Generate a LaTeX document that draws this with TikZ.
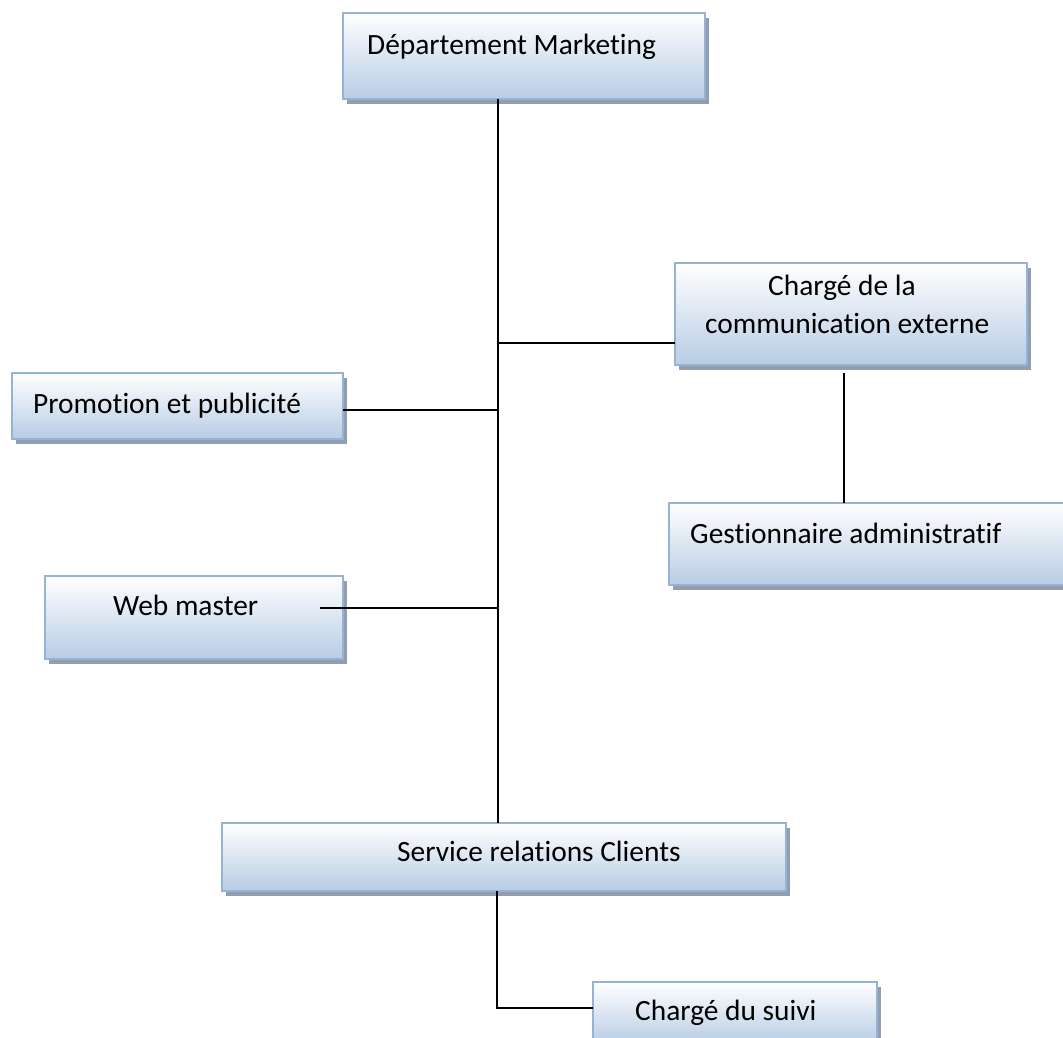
\documentclass[tikz,border=0pt]{standalone}
\usepackage{fontspec}
\setmainfont[Ligatures={NoCommon}]{Carlito}
\usetikzlibrary{shadows}
\definecolor{boxborder}{HTML}{95B3D7}
\definecolor{boxbottom}{HTML}{B8CCE4}
\definecolor{shadowc}{HTML}{929EAE}
\tikzset{
  orgbox/.style={anchor=north west, inner sep=0pt, outer sep=0pt,
    draw=boxborder, line width=2.5pt, top color=white, bottom color=boxbottom,
    drop shadow={shadow xshift=4pt, shadow yshift=-5pt, fill=shadowc, opacity=1}},
  lbl/.style={anchor=base west, inner sep=0pt, font=\fontsize{29.4}{35}\selectfont},
  link/.style={line width=2.2pt, black}
}
\begin{document}
\begin{tikzpicture}[x=1pt,y=-1pt]
\useasboundingbox (0,0) rectangle (1063,1037);
\fill[white] (0,0) rectangle (1063,1037);
% boxes
\node[orgbox, minimum width=362pt, minimum height=86pt] (dept) at (343,13) {};
\node[orgbox, minimum width=352pt, minimum height=102pt] (comm) at (675,263) {};
\node[orgbox, minimum width=331pt, minimum height=66pt] (promo) at (12,373) {};
\node[orgbox, minimum width=410pt, minimum height=82pt] (gest) at (669,503) {};
\node[orgbox, minimum width=298pt, minimum height=83pt] (web) at (45,576) {};
\node[orgbox, minimum width=564pt, minimum height=68pt] (serv) at (222,823) {};
\node[orgbox, minimum width=284pt, minimum height=62pt] (suivi) at (593,982) {};
% labels
\node[lbl] (tdept) at (367,54) {Département Marketing};
\node[lbl] (tcomma) at (768,295) {Chargé de la};
\node[lbl] (tcommb) at (705,333) {communication externe};
\node[lbl] (tpromo) at (33,413) {Promotion et publicité};
\node[lbl] (tgest) at (690,543) {Gestionnaire administratif};
\node[lbl] (tweb) at (113,615) {Web master};
\node[lbl] (tserv) at (397,861) {Service relations Clients};
\node[lbl] (tsuivi) at (635,1020) {Chargé du suivi};
% connectors
\coordinate (trunk) at (498,0);
\coordinate (webend) at (320,608);
\coordinate (gesttop) at (844,373);
\coordinate (suivicorner) at (497,1008);
\draw[link] (dept.south -| trunk) -- (serv.north -| trunk);
\draw[link] (comm.west |- 0,343) -- (trunk |- 0,343);
\draw[link] (promo.east |- 0,410) -- (trunk |- 0,410);
\draw[link] (webend) -- (trunk |- webend);
\draw[link] (gesttop) -- (gesttop |- gest.north);
\draw[link] (serv.south -| suivicorner) -- (suivicorner) -- (suivi.west |- suivicorner);
\end{tikzpicture}
\end{document}
